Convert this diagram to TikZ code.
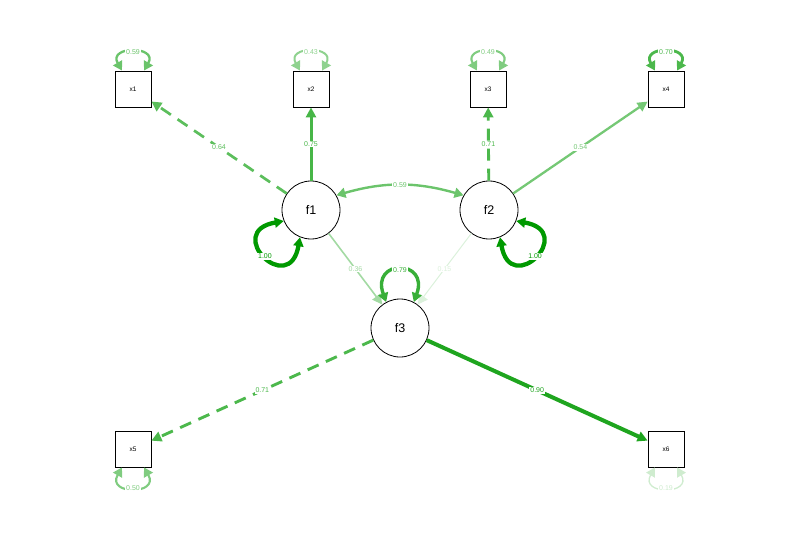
\documentclass[tikz,border=0pt]{standalone}
\usepackage{fontspec}
\setmainfont{Liberation Sans}
\usetikzlibrary{arrows.meta}
\definecolor{sg}{RGB}{0,153,0}
\tikzset{
  lat/.style={circle, draw, minimum size=58pt, inner sep=0pt, line width=0.8pt, font=\fontsize{12.5}{12.5}\selectfont},
  man/.style={rectangle, draw, minimum size=36pt, inner sep=0pt, line width=0.8pt, font=\fontsize{6.5}{6.5}\selectfont},
  lab/.style={fill=white, inner sep=1pt, font=\fontsize{7}{7}\selectfont},
  e/.style={draw=sg!#1!white, text=sg!#1!white},
  tip/.style={arrows={-Triangle[length=10pt,width=10pt]}},
  dtip/.style={arrows={Triangle[length=9pt,width=10pt]-Triangle[length=9pt,width=10pt]}},
  dpat/.style={dash pattern=on 12pt off 8pt}
}
\begin{document}
\begin{tikzpicture}[x=1pt,y=1pt]
\useasboundingbox (0,0) rectangle (800,539);
\node[man] (x1) at (133,450) {x1};
\node[man] (x2) at (311,450) {x2};
\node[man] (x3) at (488,450) {x3};
\node[man] (x4) at (666,450) {x4};
\node[man] (x5) at (133,90) {x5};
\node[man] (x6) at (666,90) {x6};
\node[lat] (f1) at (311,329) {f1};
\node[lat] (f2) at (489,329) {f2};
\node[lat] (f3) at (400,211) {f3};
% loadings
\draw[tip, e=64, line width=2.7pt, dpat] (f1) -- node[lab]{0.64} (x1);
\draw[tip, e=72, line width=3pt] (f1) -- node[lab]{0.75} (x2);
\draw[tip, e=70, line width=2.9pt, dpat] (f2) -- node[lab]{0.71} (x3);
\draw[tip, e=54, line width=2.3pt] (f2) -- node[lab]{0.54} (x4);
\draw[tip, e=36, line width=1.6pt] (f1) -- node[lab]{0.36} (f3);
\draw[tip, e=14, line width=1pt] (f2) -- node[lab]{0.15} (f3);
\draw[tip, e=70, line width=2.9pt, dpat] (f3) -- node[lab]{0.71} (x5);
\draw[tip, e=88, line width=4pt] (f3) -- node[lab]{0.90} (x6);
% covariance
\draw[dtip, e=58, line width=2.4pt] (f1.30) to[bend left=16] node[lab]{0.59} (f2.150);
% latent variances
\draw[dtip, e=100, line width=4.3pt] (f1.202) .. controls +(190:62) and +(260:62) .. node[lab]{1.00} (f1.248);
\draw[dtip, e=100, line width=4.3pt] (f2.338) .. controls +(350:62) and +(280:62) .. node[lab]{1.00} (f2.292);
\draw[dtip, e=78, line width=3.4pt] (f3.118) .. controls +(110:46) and +(70:46) .. node[lab]{0.79} (f3.62);
% residual variances
\draw[dtip, e=58, line width=2.3pt] ([xshift=-11pt]x1.north) .. controls +(120:29) and +(60:29) .. node[lab]{0.59} ([xshift=11pt]x1.north);
\draw[dtip, e=44, line width=2pt] ([xshift=-11pt]x2.north) .. controls +(120:29) and +(60:29) .. node[lab]{0.43} ([xshift=11pt]x2.north);
\draw[dtip, e=50, line width=2.1pt] ([xshift=-11pt]x3.north) .. controls +(120:29) and +(60:29) .. node[lab]{0.49} ([xshift=11pt]x3.north);
\draw[dtip, e=70, line width=2.8pt] ([xshift=-11pt]x4.north) .. controls +(120:29) and +(60:29) .. node[lab]{0.70} ([xshift=11pt]x4.north);
\draw[dtip, e=50, line width=2.1pt] ([xshift=-11pt]x5.south) .. controls +(-120:32) and +(-60:32) .. node[lab]{0.50} ([xshift=11pt]x5.south);
\draw[dtip, e=19, line width=1.3pt] ([xshift=-11pt]x6.south) .. controls +(-120:32) and +(-60:32) .. node[lab]{0.19} ([xshift=11pt]x6.south);
\end{tikzpicture}
\end{document}
